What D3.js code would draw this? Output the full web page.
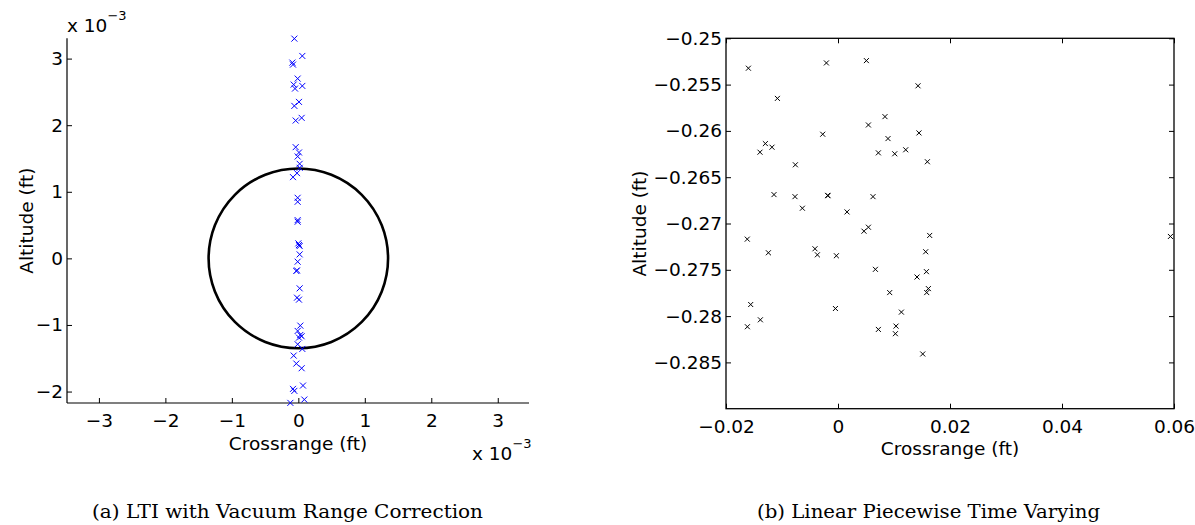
<!DOCTYPE html>
<html>
<head>
<meta charset="utf-8">
<script src="https://cdn.jsdelivr.net/npm/d3@7"></script>
<style>
  html, body { margin: 0; padding: 0; background: #fff; }
  svg { display: block; }
  .tick text { font-family: "DejaVu Sans", sans-serif; font-size: 18.5px; fill: #000; }
  .lbl { font-family: "DejaVu Sans", sans-serif; font-size: 18.5px; fill: #000; }
  .cap { font-family: "DejaVu Serif", serif; font-size: 18px; fill: #000; }
</style>
</head>
<body>
<svg id="chart" width="1195" height="525"></svg>
<script>
// ---------- Data ----------
// (a) LTI with Vacuum Range Correction, values in units of 1e-3 ft
const ltiCrossrange = [-0.06, 0.06, -0.09, -0.08, -0.01, -0.07, -0.05, 0.06, -0.06, 0.01, -0.04, 0.05,
  -0.04, 0.01, -0.01, 0.02, 0.02, -0.02, -0.08, -0.01, -0.01, -0.01, -0.01, 0.00, 0.02, 0.01, 0.02,
  -0.01, -0.03, -0.02, 0.02, -0.02, 0.01, 0.03, -0.01, 0.03, 0.05, 0.01, -0.01, 0.06, -0.07, -0.03,
  0.05, -0.08, -0.06, 0.07, 0.09, -0.12];
const ltiAltitude = [3.30, 3.04, 2.94, 2.91, 2.70, 2.61, 2.55, 2.59, 2.29, 2.35, 2.07, 2.11,
  1.67, 1.59, 1.53, 1.42, 1.36, 1.28, 1.22, 0.91, 0.85, 0.575, 0.55, 0.225, 0.185, 0.20, 0.06,
  -0.05, -0.19, -0.18, -0.45, -0.59, -0.62, -1.01, -1.09, -1.15, -1.17, -1.19, -1.29, -1.36, -1.46, -1.58,
  -1.65, -1.96, -1.99, -1.91, -2.12, -2.17];
const circleRadius = 1.35; // 1e-3 ft
const leftXTicks = [-3, -2, -1, 0, 1, 2, 3];
const leftYTicks = [-2, -1, 0, 1, 2, 3];
const leftXDomain = [-3.48, 3.47];
const leftYDomain = [-2.172, 3.305];

// (b) Linear Piecewise Time Varying, values in ft
const lpvCrossrange = [-0.0160, -0.00207, 0.00507, 0.01429, -0.01082, 0.00839, 0.00543, -0.00273, 0.01446,
  0.00893, -0.01297, -0.01393, -0.01179, 0.00721, 0.01013, 0.01209, 0.01596, -0.00761, -0.01143, -0.00768,
  -0.00184, -0.00180, 0.00625, -0.00636, 0.00161, 0.00464, 0.00543, -0.0162, 0.01637, -0.01243, -0.00411,
  -0.00368, -0.00029, 0.01566, 0.00668, 0.01411, 0.01579, 0.00923, 0.01614, 0.01584, -0.01559, -0.00046,
  0.01132, -0.01386, -0.01618, 0.00721, 0.01036, 0.01025, 0.01513, 0.05936];
const lpvAltitude = [-0.25323, -0.25266, -0.25241, -0.25513, -0.25649, -0.25846, -0.25936, -0.26036, -0.26022,
  -0.26083, -0.26137, -0.2623, -0.26176, -0.26237, -0.26247, -0.26204, -0.26333, -0.26366, -0.26688, -0.2671,
  -0.26696, -0.26700, -0.2671, -0.26835, -0.26875, -0.27083, -0.2704, -0.27169, -0.27129, -0.27316, -0.27273,
  -0.27338, -0.27348, -0.27305, -0.27495, -0.27578, -0.2752, -0.27746, -0.27703, -0.27746, -0.27875, -0.27918,
  -0.27957, -0.2804, -0.28115, -0.28144, -0.28108, -0.2819, -0.28409, -0.2714];
const rightXTicks = [-0.02, 0, 0.02, 0.04, 0.06];
const rightYTicks = [-0.25, -0.255, -0.26, -0.265, -0.27, -0.275, -0.28, -0.285];
const rightXDomain = [-0.02, 0.06];
const rightYDomain = [-0.29, -0.25];

const captions = ["(a) LTI with Vacuum Range Correction", "(b) Linear Piecewise Time Varying"];
const xLabel = "Crossrange (ft)";
const yLabel = "Altitude (ft)";

// ---------- Drawing ----------
const svg = d3.select("#chart");
const minus = s => String(s).replace("-", "\u2212");
const xMark = "M-3,-3L3,3M-3,3L3,-3";

// ----- Left panel -----
const L = { left: 67, right: 529, top: 38.3, bottom: 403 };
const xL = d3.scaleLinear().domain(leftXDomain).range([L.left, L.right]);
const yL = d3.scaleLinear().domain(leftYDomain).range([L.bottom, L.top]);

const gL = svg.append("g");
gL.append("g").attr("transform", `translate(0,${L.bottom})`)
  .call(d3.axisBottom(xL).tickValues(leftXTicks).tickSize(-5).tickPadding(11)
    .tickFormat(d => minus(d)))
  .call(g => g.select(".domain").remove())
  .call(g => g.selectAll(".tick line").attr("stroke", "#000"));
gL.append("g").attr("transform", `translate(${L.left},0)`)
  .call(d3.axisLeft(yL).tickValues(leftYTicks).tickSize(-5).tickPadding(4)
    .tickFormat(d => minus(d)))
  .call(g => g.select(".domain").remove())
  .call(g => g.selectAll(".tick line").attr("stroke", "#000"));
gL.append("line").attr("x1", L.left).attr("x2", L.right).attr("y1", L.bottom).attr("y2", L.bottom)
  .attr("stroke", "#000").attr("stroke-width", 1.2);
gL.append("line").attr("x1", L.left).attr("x2", L.left).attr("y1", L.top).attr("y2", L.bottom)
  .attr("stroke", "#000").attr("stroke-width", 1.2);

// circle
gL.append("ellipse")
  .attr("cx", xL(0)).attr("cy", yL(0))
  .attr("rx", xL(circleRadius) - xL(0)).attr("ry", yL(0) - yL(circleRadius))
  .attr("fill", "none").attr("stroke", "#000").attr("stroke-width", 2.6);

// markers
gL.append("g").selectAll("path").data(d3.range(ltiCrossrange.length)).join("path")
  .attr("d", xMark)
  .attr("transform", i => `translate(${xL(ltiCrossrange[i])},${yL(ltiAltitude[i])})`)
  .attr("fill", "none").attr("stroke", "#0000ff").attr("stroke-width", 1);

// labels
gL.append("text").attr("class", "lbl").attr("x", (L.left + L.right) / 2).attr("y", 450)
  .attr("text-anchor", "middle").text(xLabel);
gL.append("text").attr("class", "lbl")
  .attr("transform", `translate(33,${(L.top + L.bottom) / 2}) rotate(-90)`)
  .attr("text-anchor", "middle").text(yLabel);

function multiplier(g, x, y) {
  const t = g.append("text").attr("class", "lbl").attr("x", x).attr("y", y);
  t.append("tspan").text("x 10");
  t.append("tspan").attr("dy", -12).style("font-size", "13px").text("\u22123");
}
multiplier(gL, 67, 32);
multiplier(gL, 472, 460);

gL.append("text").attr("class", "cap").attr("x", 92).attr("y", 518)
  .attr("textLength", 391).attr("lengthAdjust", "spacingAndGlyphs").text(captions[0]);

// ----- Right panel -----
const R = { left: 726, right: 1174, top: 38.3, bottom: 408.7 };
const xR = d3.scaleLinear().domain(rightXDomain).range([R.left, R.right]);
const yR = d3.scaleLinear().domain(rightYDomain).range([R.bottom, R.top]);
const gR = svg.append("g");
const fmtR = d => d === 0 ? "0" : minus(d);

gR.append("g").attr("transform", `translate(0,${R.bottom})`)
  .call(d3.axisBottom(xR).tickValues(rightXTicks).tickSize(-5).tickPadding(11).tickFormat(fmtR))
  .call(g => g.select(".domain").remove())
  .call(g => g.selectAll(".tick line").attr("stroke", "#000"));
gR.append("g").attr("transform", `translate(0,${R.top})`)
  .call(d3.axisTop(xR).tickValues(rightXTicks).tickSize(-5).tickFormat(""))
  .call(g => g.select(".domain").remove())
  .call(g => g.selectAll(".tick line").attr("stroke", "#000"));
gR.append("g").attr("transform", `translate(${R.left},0)`)
  .call(d3.axisLeft(yR).tickValues(rightYTicks).tickSize(-5).tickPadding(4).tickFormat(fmtR))
  .call(g => g.select(".domain").remove())
  .call(g => g.selectAll(".tick line").attr("stroke", "#000"));
gR.append("g").attr("transform", `translate(${R.right},0)`)
  .call(d3.axisRight(yR).tickValues(rightYTicks).tickSize(-5).tickFormat(""))
  .call(g => g.select(".domain").remove())
  .call(g => g.selectAll(".tick line").attr("stroke", "#000"));
gR.append("rect").attr("x", R.left).attr("y", R.top)
  .attr("width", R.right - R.left).attr("height", R.bottom - R.top)
  .attr("fill", "none").attr("stroke", "#000").attr("stroke-width", 1.3);

gR.append("g").selectAll("path").data(d3.range(lpvCrossrange.length)).join("path")
  .attr("d", "M-2.5,-2.5L2.5,2.5M-2.5,2.5L2.5,-2.5")
  .attr("transform", i => `translate(${xR(lpvCrossrange[i])},${yR(lpvAltitude[i])})`)
  .attr("fill", "none").attr("stroke", "#000").attr("stroke-width", 1);

gR.append("text").attr("class", "lbl").attr("x", (R.left + R.right) / 2).attr("y", 455)
  .attr("text-anchor", "middle").text(xLabel);
gR.append("text").attr("class", "lbl")
  .attr("transform", `translate(646,${(R.top + R.bottom) / 2}) rotate(-90)`)
  .attr("text-anchor", "middle").text(yLabel);

gR.append("text").attr("class", "cap").attr("x", 757).attr("y", 518)
  .attr("textLength", 343).attr("lengthAdjust", "spacingAndGlyphs").text(captions[1]);
</script>
</body>
</html>
